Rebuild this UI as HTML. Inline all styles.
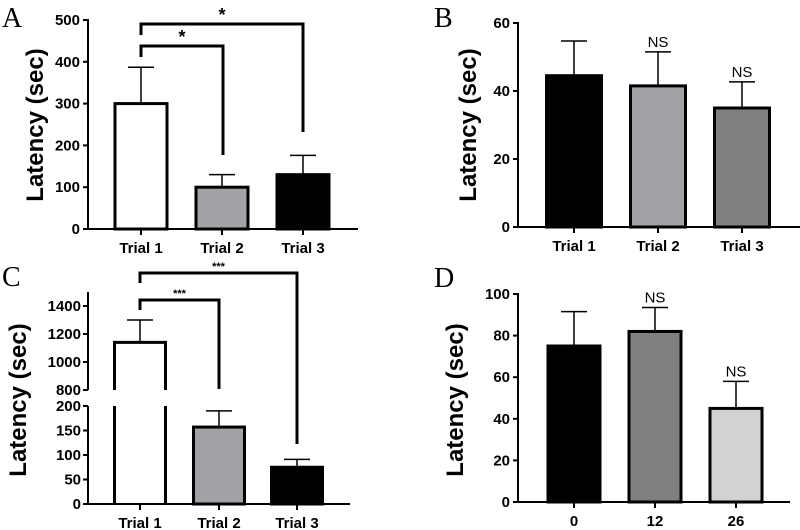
<!DOCTYPE html>
<html><head><meta charset="utf-8"><style>
html,body{margin:0;padding:0;background:#fff}
svg{display:block;font-family:"Liberation Sans",Arial,sans-serif}
.tk{font-size:15px;font-weight:bold}
.yt{font-size:24px;font-weight:bold}
.pl{font-family:"Liberation Serif",serif;font-size:28px}
</style></head><body>
<svg id="fig" width="800" height="530" viewBox="0 0 800 530" xmlns="http://www.w3.org/2000/svg"></svg>
<script>
// Panel A
const aCats=["Trial 1","Trial 2","Trial 3"];
const aVals=[300,100,130];
const aErr=[387,130,176];
const aTicks=[0,100,200,300,400,500];
// Panel B
const bCats=["Trial 1","Trial 2","Trial 3"];
const bVals=[44.5,41.5,35];
const bErr=[54.7,51.5,42.7];
const bTicks=[0,20,40,60];
const bSig=["","NS","NS"];
// Panel C
const cCats=["Trial 1","Trial 2","Trial 3"];
const cVals=[1140,157,75];
const cErr=[1300,190,91];
const cTicksLow=[0,50,100,150,200];
const cTicksHigh=[800,1000,1200,1400];
// Panel D
const dCats=["0","12","26"];
const dVals=[75,82,45];
const dErr=[91.5,93.5,58];
const dTicks=[0,20,40,60,80,100];
const dSig=["","NS","NS"];

const S=document.getElementById('fig');
const NS='http://www.w3.org/2000/svg';
function mk(tag,attrs,name,txt){const e=document.createElementNS(NS,tag);for(const k in attrs)e.setAttribute(k,attrs[k]);


if(txt!==undefined)e.textContent=txt;S.appendChild(e);return e;}
function line(x1,y1,x2,y2,w,name){return mk('line',{x1,y1,x2,y2,stroke:'#000','stroke-width':w},name);}

function panel(o){
  const ys=v=>o.y0-(v-o.vmin)*(o.y0-o.y1)/(o.vmax-o.vmin);
  line(o.ax,o.y1-1,o.ax,o.y0+1,2,o.p+'-y-axis');
  line(o.ax,o.y0,o.axEnd,o.y0,2,o.p+'-x-axis');
  o.ticks.forEach(t=>{const y=ys(t);line(o.ax-5,y,o.ax,y,2,o.p+'-y-tick');
    mk('text',{x:o.ax-8,y:y+5,'text-anchor':'end',class:'tk'},o.p+'-y-tick-label',String(t));});
  o.cats.forEach((c,i)=>{
    const cx=o.cx[i],x=cx-o.bw/2,top=ys(o.vals[i]);
    line(cx,o.y0,cx,o.y0+6,2,o.p+'-x-tick');
    mk('text',{x:cx,y:o.y0+24,'text-anchor':'middle',class:'tk'},o.p+'-x-tick-label',c);
    const ye=ys(o.err[i]);
    line(cx,ye,cx,top,1.5,o.p+'-error-bar');
    line(cx-13,ye,cx+13,ye,1.5,o.p+'-error-cap');
    mk('rect',{x:x,y:top,width:o.bw,height:o.y0-top,fill:o.fills[i],stroke:'#000','stroke-width':3},o.p+'-bar-'+(i+1));
    if(o.sig&&o.sig[i])mk('text',{x:cx,y:ye-5,'text-anchor':'middle','font-size':15},o.p+'-ns-label',o.sig[i]);
  });
  mk('text',{x:0,y:0,'text-anchor':'middle',class:'yt',transform:`translate(${o.ytx},${o.yty}) rotate(-90)`},o.p+'-y-axis-title','Latency (sec)');
  mk('text',{x:o.lx,y:o.ly,class:'pl'},o.p+'-panel-label',o.p.slice(-1).toUpperCase());
}
function bracket(x1,x2,y,yl,yr,star,sy,fs,name){
  mk('path',{d:`M${x1} ${yl}V${y}H${x2}V${yr}`,fill:'none',stroke:'#000','stroke-width':3},name);
  mk('text',{x:(x1+x2)/2,y:sy,'text-anchor':'middle','font-size':fs,'font-weight':'bold'},name+'-stars',star);
}

panel({p:'panel-a',cats:aCats,vals:aVals,err:aErr,ticks:aTicks,vmin:0,vmax:500,y0:229,y1:20,ax:88,axEnd:358,cx:[141,222,303],bw:52,fills:['#fff','#a2a1a6','#000'],ytx:43,yty:125,lx:2,ly:27});
bracket(141,303,24,35,132,'*',21,18,'panel-a-bracket-1-3');
bracket(141,223,46,57,155,'*',43,18,'panel-a-bracket-1-2');

panel({p:'panel-b',cats:bCats,vals:bVals,err:bErr,ticks:bTicks,sig:bSig,vmin:0,vmax:60,y0:227,y1:23,ax:518,axEnd:800,cx:[574,658,742],bw:55,fills:['#000','#a2a1a6','#808080'],ytx:476,yty:125,lx:434,ly:27});

panel({p:'panel-d',cats:dCats,vals:dVals,err:dErr,ticks:dTicks,sig:dSig,vmin:0,vmax:100,y0:502,y1:294,ax:518,axEnd:790,cx:[574,655,736],bw:52,fills:['#000','#808080','#d3d3d3'],ytx:463,yty:400,lx:434,ly:287});

// Panel C (broken axis)
(function(){
  const yLow=v=>504-v*(504-406)/200;
  const yHigh=v=>390-(v-800)*(390-306)/600;
  const ax=88,cx=[140,219,297],bw=51,fills=['#fff','#a2a1a6','#000'];
  line(ax,292,ax,390,2,'panel-c-y-axis-upper');
  line(ax,406,ax,505,2,'panel-c-y-axis-lower');
  line(ax-5,390,ax,390,2,'panel-c-axis-break');line(ax-5,406,ax,406,2,'panel-c-axis-break');
  line(ax,504,350,504,2,'panel-c-x-axis');
  cTicksHigh.forEach(t=>{const y=yHigh(t);line(ax-5,y,ax,y,2,'panel-c-y-tick');
    mk('text',{x:ax-7,y:y+5,'text-anchor':'end',class:'tk'},'panel-c-y-tick-label',String(t));});
  cTicksLow.forEach(t=>{const y=yLow(t);line(ax-5,y,ax,y,2,'panel-c-y-tick');
    mk('text',{x:ax-7,y:y+5,'text-anchor':'end',class:'tk'},'panel-c-y-tick-label',String(t));});
  const yv=v=>v>200?yHigh(v):yLow(v);
  cCats.forEach((c,i)=>{
    const x=cx[i]-bw/2,top=yv(cVals[i]),ye=yv(cErr[i]);
    line(cx[i],504,cx[i],510,2,'panel-c-x-tick');
    mk('text',{x:cx[i],y:528,'text-anchor':'middle',class:'tk'},'panel-c-x-tick-label',c);
    line(cx[i],ye,cx[i],top,1.5,'panel-c-error-bar');
    line(cx[i]-13,ye,cx[i]+13,ye,1.5,'panel-c-error-cap');
    if(cVals[i]>200){
      mk('path',{d:`M${x} 390V${top}H${x+bw}V390`,fill:fills[i],stroke:'#000','stroke-width':3},'panel-c-bar-'+(i+1)+'-upper');
      mk('path',{d:`M${x} 504V406M${x+bw} 406V504`,fill:'none',stroke:'#000','stroke-width':3},'panel-c-bar-'+(i+1)+'-lower');
    } else {
      mk('rect',{x:x,y:top,width:bw,height:504-top,fill:fills[i],stroke:'#000','stroke-width':3},'panel-c-bar-'+(i+1));
    }
  });
  mk('text',{x:0,y:0,'text-anchor':'middle',class:'yt',transform:'translate(26,400) rotate(-90)'},'panel-c-y-axis-title','Latency (sec)');
  mk('text',{x:2,y:286,class:'pl'},'panel-c-panel-label','C');
  bracket(140,297,273,283,444,'***',270,11,'panel-c-bracket-1-3');
  bracket(140,219,300,310,389,'***',297,11,'panel-c-bracket-1-2');
})();
</script>
</body></html>
